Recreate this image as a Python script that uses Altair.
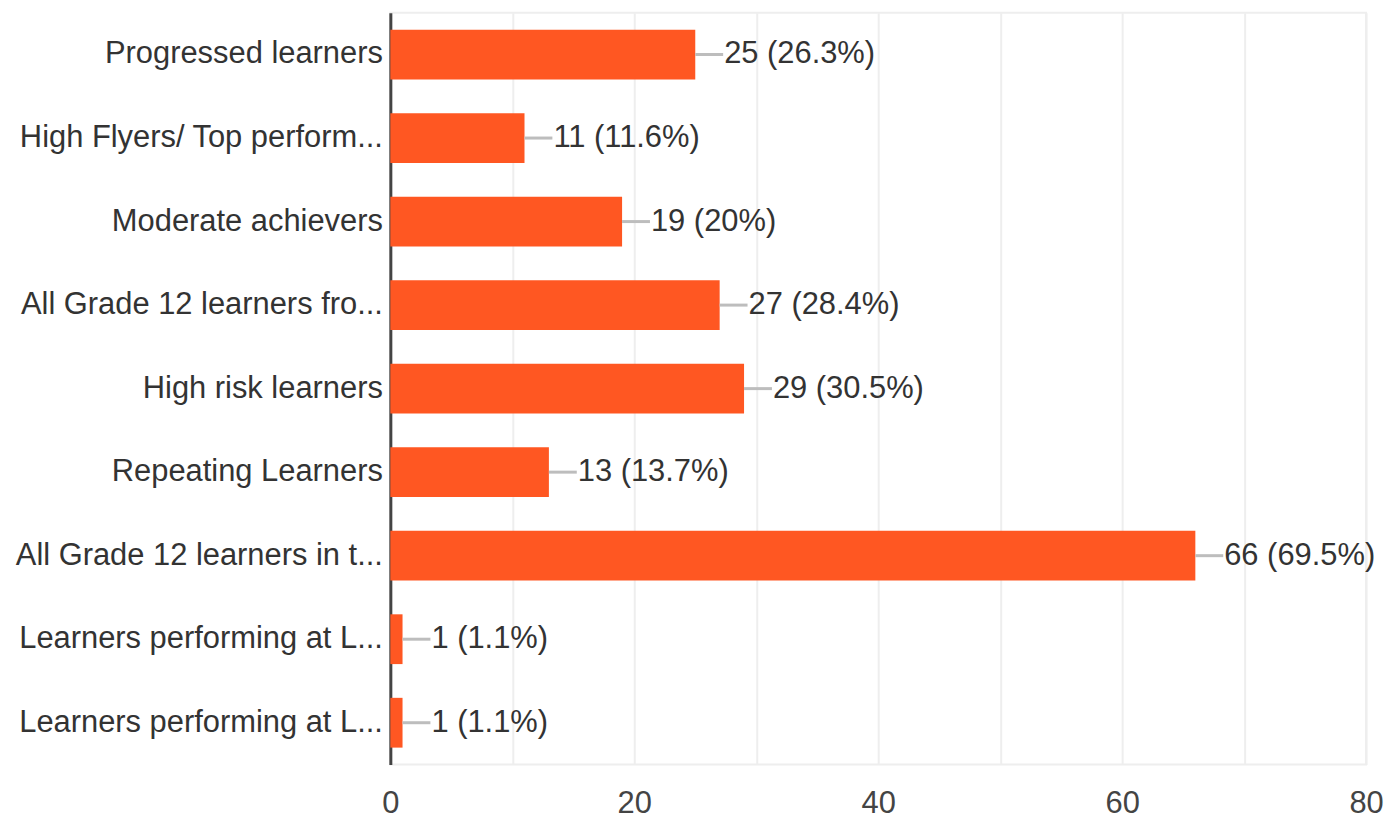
import altair as alt
import pandas as pd

labels = [
    "Progressed learners",
    "High Flyers/ Top perform...",
    "Moderate achievers",
    "All Grade 12 learners fro...",
    "High risk learners",
    "Repeating Learners",
    "All Grade 12 learners in t...",
    "Learners performing at L...",
    "Learners performing at L...",
]
counts = [25, 11, 19, 27, 29, 13, 66, 1, 1]
percents = ["26.3%", "11.6%", "20%", "28.4%", "30.5%", "13.7%", "69.5%", "1.1%", "1.1%"]

df = pd.DataFrame({
    "idx": list(range(len(labels))),
    "count": counts,
    "text": [f"{c} ({p})" for c, p in zip(counts, percents)],
})

label_js = "[" + ",".join("'" + l.replace("'", "\\'") + "'" for l in labels) + "]"

FONT = "Liberation Sans, Arial"
FS = 31
BAR = "#FF5722"

y = alt.Y(
    "idx:O",
    sort="ascending",
    title=None,
    scale=alt.Scale(paddingInner=0.4, paddingOuter=0.2),
    axis=alt.Axis(
        labelExpr=label_js + "[datum.value]",
        labelFontSize=FS,
        labelFont=FONT,
        labelColor="#333333",
        labelPadding=8,
        ticks=False,
        domainColor="#444444",
        domainWidth=3,
        labelLimit=600,
    ),
)

x = alt.X(
    "count:Q",
    title=None,
    scale=alt.Scale(domain=[0, 80], nice=False),
    axis=alt.Axis(
        values=list(range(0, 81, 10)),
        labelExpr="datum.value % 20 == 0 ? datum.label : ''",
        labelFontSize=FS,
        labelFont=FONT,
        labelColor="#444444",
        labelPadding=24,
        labelFlush=False,
        ticks=False,
        domain=False,
        gridColor="#eeeeee",
        gridWidth=2,
    ),
)

base = alt.Chart(df)

bars = base.mark_bar(color=BAR, size=50).encode(x=x, y=y)

leaders = base.mark_rule(color="#bdbdbd", strokeWidth=3, x2Offset=28).encode(
    x="count:Q", x2="count:Q", y=alt.Y("idx:O", sort="ascending")
)

texts = base.mark_text(
    align="left", baseline="middle", dx=29, fontSize=FS, font=FONT, color="#333333"
).encode(x="count:Q", y=alt.Y("idx:O", sort="ascending"), text="text:N")

chart = (
    alt.layer(bars, leaders, texts)
    .properties(
        width=980,
        height=755,
        autosize=alt.AutoSizeParams(type="none"),
        padding={"left": 384, "top": 3, "right": 22, "bottom": 60},
    )
    .configure_view(stroke="#eeeeee", strokeWidth=2)
)

chart.save("out.html", embed_options={"renderer": "svg", "actions": False})
